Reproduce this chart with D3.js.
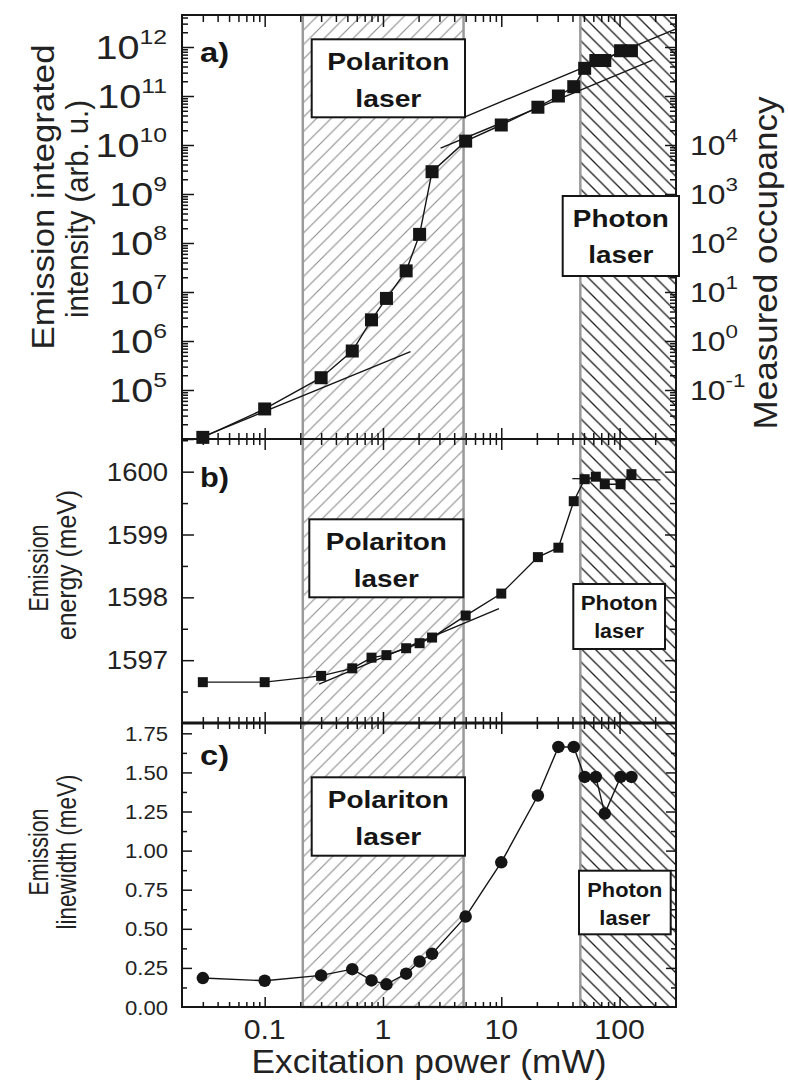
<!DOCTYPE html>
<html>
<head>
<meta charset="utf-8">
<script src="https://cdn.jsdelivr.net/npm/d3@7"></script>
<style>
  body { margin: 0; background: #fff; }
  svg { display: block; font-family: "Liberation Sans", Arial, sans-serif; }
</style>
</head>
<body>
<div id="canvas"></div>
<script>
// ---- data ----
const power = [0.03, 0.1, 0.3, 0.55, 0.8, 1.07, 1.57, 2.04, 2.6, 5, 10, 20.4, 30.4, 41, 50.7, 63, 75, 102, 126];
const intensity = [1.08e4, 4.1e4, 1.78e5, 6.25e5, 2.7e6, 7.4e6, 2.7e7, 1.5e8, 2.85e9, 1.2e10, 2.56e10,
                   5.9e10, 1.0e11, 1.55e11, 3.67e11, 5.3e11, 5.3e11, 8.4e11, 8.4e11];
const energy = [1596.65, 1596.65, 1596.75, 1596.87, 1597.04, 1597.08, 1597.19, 1597.27, 1597.36, 1597.71,
                1598.06, 1598.64, 1598.79, 1599.53, 1599.88, 1599.92, 1599.80, 1599.80, 1599.96];
const linewidth = [0.185, 0.168, 0.202, 0.242, 0.170, 0.145, 0.213, 0.291, 0.34, 0.578, 0.925, 1.352,
                   1.663, 1.663, 1.471, 1.471, 1.237, 1.471, 1.471];

// straight fits (two end points each)
const fitsA = [
  { p: [0.0328, 1.71], v: [1.21e4, 6.05e5] },
  { p: [3.07, 190], v: [8.6e9, 5.4e11] },
  { p: [5, 300], v: [3.8e10, 2.35e12] }
];
const fitsB = [
  { p: [0.288, 9.56], v: [1596.62, 1597.82] },
  { p: [39.9, 222], v: [1599.89, 1599.87] }
];

const polaritonRange = [0.21, 4.8];
const photonRange = [46.6, 300];

const xDomain = [0.02, 300];
const xMajor = [0.1, 1, 10, 100];
const xLabels = ["0.1", "1", "10", "100"];
const aExp = [5, 6, 7, 8, 9, 10, 11, 12];
const occExp = [-1, 0, 1, 2, 3, 4];
const bTicks = [1597, 1598, 1599, 1600];
const cTicks = [0, 0.25, 0.5, 0.75, 1.0, 1.25, 1.5, 1.75];

// ---- layout ----
const w = 788, h = 1084;
const L = 182, R = 676;
const yTop = 15, ab = 439, bc = 723, yBot = 1007;
const S = 1.18; // horizontal stretch of the lettering
const ink = "#151515";

const svg = d3.select("#canvas").append("svg").attr("width", w).attr("height", h);

const x = d3.scaleLog().domain(xDomain).range([L, R]);
const yA = d3.scaleLog().domain([1e4, 4.5e12]).range([ab, yTop]);
const yOcc = d3.scaleLog().domain([1e-2, 4.5e6]).range([ab, yTop]);
const yB = d3.scaleLinear().domain([1596, 1600.52]).range([bc, ab]);
const yC = d3.scaleLinear().domain([0, 1.816]).range([yBot, bc]);

// ---- hatched regions ----
const defs = svg.append("defs");
function hatch(id, s, color, sw, rising) {
  const p = defs.append("pattern").attr("id", id)
    .attr("patternUnits", "userSpaceOnUse").attr("width", s).attr("height", s);
  const d = rising
    ? `M0,${s} L${s},0 M${-s / 2},${s / 2} L${s / 2},${-s / 2} M${s / 2},${1.5 * s} L${1.5 * s},${s / 2}`
    : `M0,0 L${s},${s} M${-s / 2},${s / 2} L${s / 2},${1.5 * s} M${s / 2},${-s / 2} L${1.5 * s},${s / 2}`;
  p.append("path").attr("d", d).attr("stroke", color).attr("stroke-width", sw).attr("fill", "none");
}
hatch("hatchPol", 14.5, "#8a8a8a", 1.1, true);
hatch("hatchPho", 13.5, "#1a1a1a", 1.3, false);

svg.append("rect")
  .attr("x", x(polaritonRange[0])).attr("y", yTop)
  .attr("width", x(polaritonRange[1]) - x(polaritonRange[0])).attr("height", yBot - yTop)
  .attr("fill", "url(#hatchPol)").attr("stroke", "#9a9a9a").attr("stroke-width", 2.5);
svg.append("rect")
  .attr("x", x(photonRange[0])).attr("y", yTop)
  .attr("width", x(photonRange[1]) - x(photonRange[0])).attr("height", yBot - yTop)
  .attr("fill", "url(#hatchPho)");
svg.append("line")
  .attr("x1", x(photonRange[0])).attr("x2", x(photonRange[0]))
  .attr("y1", yTop).attr("y2", yBot)
  .attr("stroke", "#9a9a9a").attr("stroke-width", 2.5);

// ---- ticks ----
function logMinors(e0, e1, lo, hi) {
  const out = [];
  for (let e = e0; e <= e1; e++)
    for (let k = 2; k <= 9; k++) {
      const v = k * Math.pow(10, e);
      if (v > lo && v < hi) out.push(v);
    }
  return out;
}
const xMinor = logMinors(-2, 2, 0.02, 300);

function ticks(axisFn, scale, values, size, tx, ty, cross) {
  const g = svg.append("g").attr("transform", `translate(${tx},${ty})`)
    .call(axisFn(scale).tickValues(values).tickSize(size).tickFormat(""));
  g.select(".domain").remove();
  g.selectAll(".tick line").attr("stroke", ink).attr("stroke-width", 1.5);
  if (cross) g.selectAll(".tick line").attr("y1", -size);
  return g;
}

// x ticks: top (inward), two inner crossing axes, bottom (inward)
ticks(d3.axisBottom, x, xMajor, 12, 0, yTop);
ticks(d3.axisBottom, x, xMinor, 7, 0, yTop);
[ab, bc].forEach(yy => {
  ticks(d3.axisBottom, x, xMajor, 11, 0, yy, true);
  ticks(d3.axisBottom, x, xMinor, 6, 0, yy, true);
});
ticks(d3.axisTop, x, xMajor, 10, 0, yBot);
ticks(d3.axisTop, x, xMinor, 5, 0, yBot);

// panel a y ticks
const aMajor = d3.range(4, 13).map(e => Math.pow(10, e));
const aMinor = logMinors(4, 12, 1e4, 4.5e12);
ticks(d3.axisRight, yA, aMajor, 12, L, 0);
ticks(d3.axisRight, yA, aMinor, 6, L, 0);
const occMajor = d3.range(-2, 7).map(e => Math.pow(10, e));
const occMinor = logMinors(-2, 6, 1e-2, 4.5e6);
ticks(d3.axisLeft, yOcc, occMajor, 11, R, 0);
ticks(d3.axisLeft, yOcc, occMinor, 6, R, 0);

// panel b y ticks
const bMinor = [1596.5, 1597.5, 1598.5, 1599.5, 1600.5];
ticks(d3.axisRight, yB, bTicks, 12, L, 0);
ticks(d3.axisRight, yB, bMinor, 6, L, 0);
ticks(d3.axisLeft, yB, bTicks, 11, R, 0);
ticks(d3.axisLeft, yB, bMinor, 6, R, 0);

// panel c y ticks
const cMinor = d3.range(0, 7).map(i => 0.125 + i * 0.25);
ticks(d3.axisRight, yC, cTicks.slice(1), 10, L, 0);
ticks(d3.axisRight, yC, cMinor, 5, L, 0);
ticks(d3.axisLeft, yC, cTicks.slice(1), 10, R, 0);
ticks(d3.axisLeft, yC, cMinor, 5, R, 0);

// ---- frame ----
const frame = svg.append("g").attr("stroke", ink).attr("fill", "none");
frame.append("rect").attr("x", L).attr("y", yTop).attr("width", R - L).attr("height", yBot - yTop)
  .attr("stroke-width", 2);
frame.append("line").attr("x1", L).attr("x2", R).attr("y1", ab).attr("y2", ab).attr("stroke-width", 2);
frame.append("line").attr("x1", L).attr("x2", R).attr("y1", bc).attr("y2", bc).attr("stroke-width", 3);

// ---- data ----
const rowsA = power.map((p, i) => ({ p: p, v: intensity[i] }));
const rowsB = power.map((p, i) => ({ p: p, v: energy[i] }));
const rowsC = power.map((p, i) => ({ p: p, v: linewidth[i] }));

function fitLines(fits, yScale) {
  svg.append("g").selectAll("line").data(fits).enter().append("line")
    .attr("x1", d => x(d.p[0])).attr("x2", d => x(d.p[1]))
    .attr("y1", d => yScale(d.v[0])).attr("y2", d => yScale(d.v[1]))
    .attr("stroke", ink).attr("stroke-width", 1.4);
}
function series(rows, yScale, marker, size) {
  const line = d3.line().x(d => x(d.p)).y(d => yScale(d.v));
  svg.append("path").datum(rows).attr("d", line)
    .attr("fill", "none").attr("stroke", ink).attr("stroke-width", 1.4);
  const g = svg.append("g").attr("fill", ink);
  if (marker === "square") {
    g.selectAll("rect").data(rows).enter().append("rect")
      .attr("x", d => x(d.p) - size / 2).attr("y", d => yScale(d.v) - size / 2)
      .attr("width", size).attr("height", size);
  } else {
    g.selectAll("circle").data(rows).enter().append("circle")
      .attr("cx", d => x(d.p)).attr("cy", d => yScale(d.v)).attr("r", size / 2);
  }
}
fitLines(fitsA, yA);
series(rowsA, yA, "square", 13);
fitLines(fitsB, yB);
series(rowsB, yB, "square", 10);
series(rowsC, yC, "circle", 12.5);

// ---- annotation boxes ----
function box(x0, y0, x1, y1, lines, size) {
  svg.append("rect").attr("x", x0).attr("y", y0).attr("width", x1 - x0).attr("height", y1 - y0)
    .attr("fill", "#fff").attr("stroke", ink).attr("stroke-width", 2);
  lines.forEach(l => {
    svg.append("text").attr("x", (x0 + x1) / 2).attr("y", l.y)
      .attr("text-anchor", "middle").attr("font-weight", "bold").attr("font-size", size)
      .attr("textLength", l.len).attr("lengthAdjust", "spacingAndGlyphs")
      .attr("fill", ink).text(l.t);
  });
}
box(311.7, 39.3, 465, 117.3, [{ t: "Polariton", y: 70, len: 122 }, { t: "laser", y: 107, len: 66 }], 23);
box(562.7, 196, 679, 276, [{ t: "Photon", y: 226.7, len: 96 }, { t: "laser", y: 263, len: 65 }], 23);
box(309.3, 519.3, 463.3, 597.3, [{ t: "Polariton", y: 550, len: 121 }, { t: "laser", y: 586.7, len: 65 }], 23);
box(573.3, 584, 665, 649, [{ t: "Photon", y: 610, len: 77 }, { t: "laser", y: 638.3, len: 50 }], 20);
box(311.7, 777.3, 465, 855.7, [{ t: "Polariton", y: 808.3, len: 121 }, { t: "laser", y: 845, len: 66 }], 23);
box(579, 870.7, 670.7, 934.3, [{ t: "Photon", y: 896.7, len: 75 }, { t: "laser", y: 925, len: 51 }], 20);

// panel letters
[["a)", 62], ["b)", 486.7], ["c)", 765]].forEach(d => {
  svg.append("text").attr("x", 200).attr("y", d[1]).attr("font-weight", "bold")
    .attr("font-size", 27).attr("textLength", 29).attr("lengthAdjust", "spacingAndGlyphs")
    .attr("fill", ink).text(d[0]);
});

// ---- tick labels ----
function stretched(xPos, yPos, sx) {
  return svg.append("g").attr("transform", `translate(${xPos},${yPos}) scale(${sx},1)`);
}
function powLabel(xPos, yPos, e, size, expSize, dy, anchor) {
  const t = stretched(xPos, yPos, S).append("text").attr("text-anchor", anchor)
    .attr("font-size", size).attr("fill", "#222");
  t.append("tspan").text("10");
  t.append("tspan").attr("font-size", expSize).attr("dy", dy).text(e);
}
aExp.forEach(e => powLabel(167, yA(Math.pow(10, e)) + 12, e, 33.5, 21, -15, "end"));
occExp.forEach(e => powLabel(690, yOcc(Math.pow(10, e)) + 9.5, e, 27, 19, -12.5, "start"));

bTicks.forEach(v => {
  stretched(168, yB(v) + 9, 1.1).append("text").attr("text-anchor", "end")
    .attr("font-size", 25).attr("fill", "#222").text(v);
});
cTicks.forEach(v => {
  stretched(168, yC(v) + 7.5, 1.05).append("text").attr("text-anchor", "end")
    .attr("font-size", 21).attr("fill", "#222").text(v.toFixed(2));
});
xMajor.forEach((v, i) => {
  stretched(x(v), 1039, 1.08).append("text").attr("text-anchor", "middle")
    .attr("font-size", 28).attr("fill", "#222").text(xLabels[i]);
});

// ---- axis titles ----
function rotTitle(xPos, yPos, txt, size, len) {
  svg.append("text").attr("transform", `translate(${xPos},${yPos}) rotate(-90)`)
    .attr("text-anchor", "middle").attr("font-size", size)
    .attr("textLength", len).attr("lengthAdjust", "spacingAndGlyphs")
    .attr("fill", "#222").text(txt);
}
rotTitle(54, 197, "Emission integrated", 32, 305);
rotTitle(88, 209, "intensity (arb. u.)", 32, 218);
rotTitle(48, 568, "Emission", 27, 87);
rotTitle(76, 565, "energy (meV)", 27, 150);
rotTitle(48, 852, "Emission", 27, 87);
rotTitle(76, 852, "linewidth (meV)", 27, 155);
rotTitle(777, 263, "Measured occupancy", 34, 333);

svg.append("text").attr("x", (L + R) / 2).attr("y", 1073).attr("text-anchor", "middle")
  .attr("font-size", 34).attr("textLength", 355).attr("lengthAdjust", "spacingAndGlyphs")
  .attr("fill", "#222").text("Excitation power (mW)");
</script>
</body>
</html>
